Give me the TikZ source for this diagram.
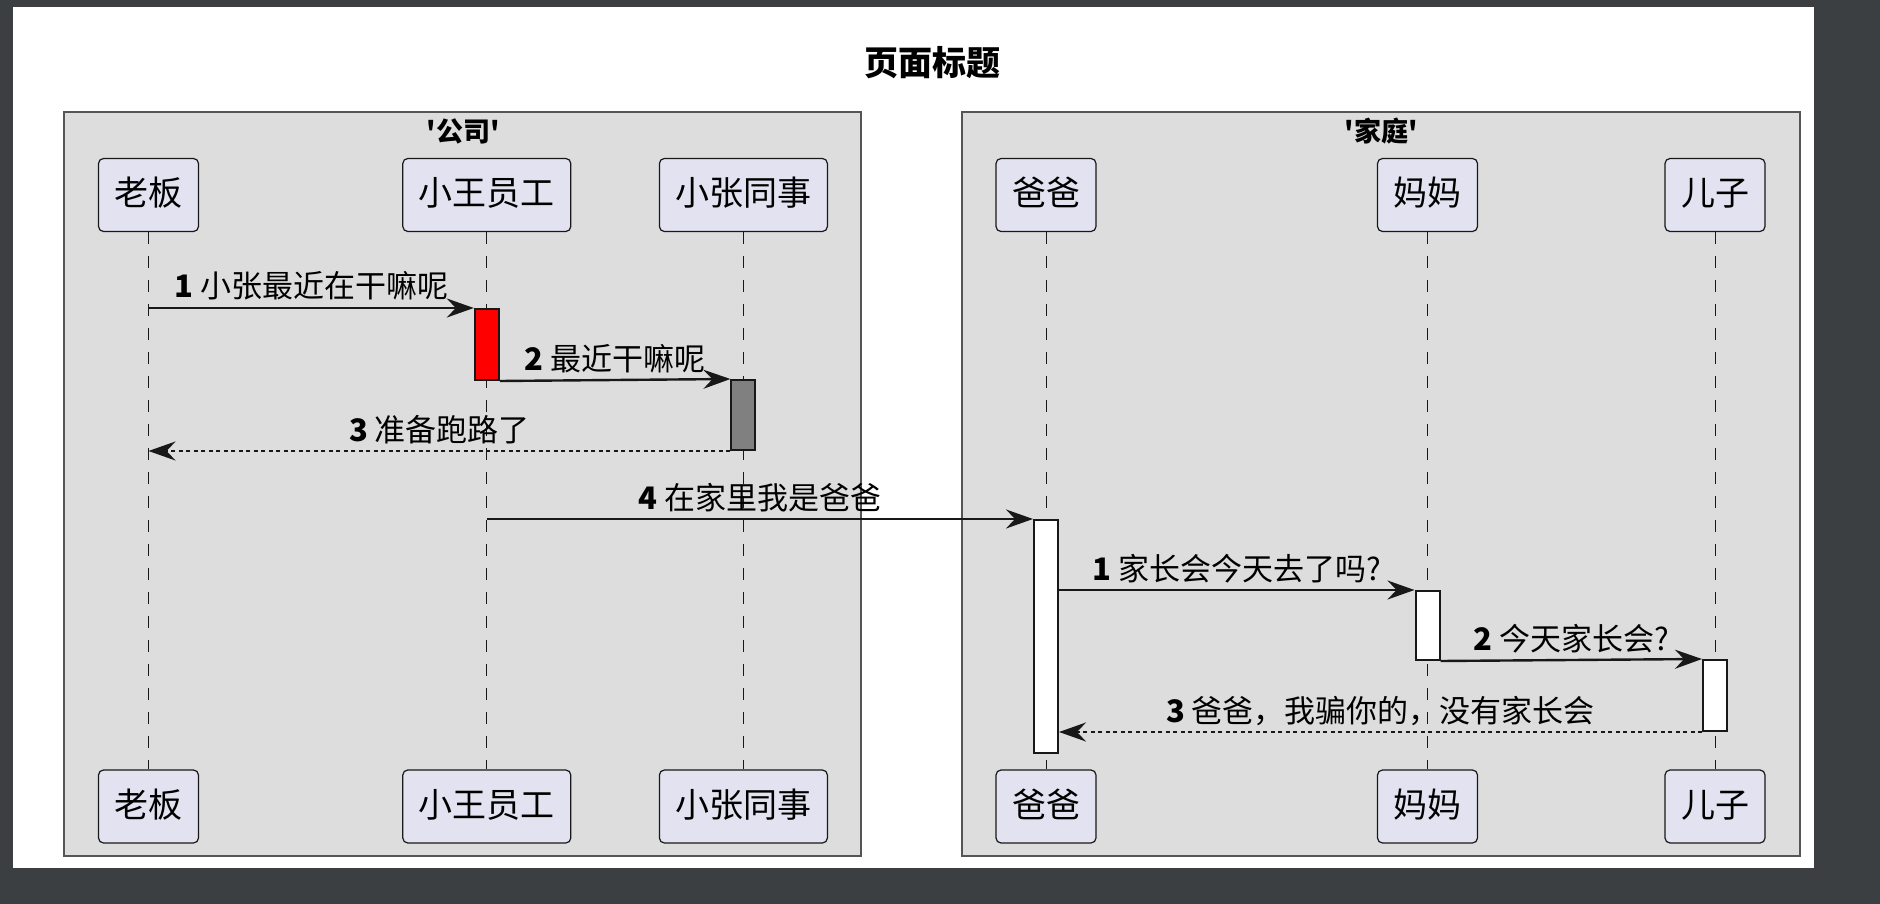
\documentclass[tikz,border=0pt]{standalone}
\usepackage{fontspec}
\newfontfamily\umlfont{Noto Sans CJK SC}
\usetikzlibrary{arrows.meta}
\definecolor{umlbg}{HTML}{3C3F42}
\definecolor{umlink}{HTML}{181818}
\definecolor{umlgroup}{HTML}{DDDDDD}
\definecolor{umlpart}{HTML}{E2E2F0}
\definecolor{umlframe}{HTML}{555555}
\definecolor{umlactgray}{HTML}{808080}
\tikzset{
  titletext/.style={font=\umlfont\bfseries\fontsize{34}{40}\selectfont, text=black},
  grouptitle/.style={font=\umlfont\bfseries\fontsize{27}{32}\selectfont, text=black},
  groupbox/.style={draw=umlframe, fill=umlgroup, line width=1.2},
  partbox/.style={draw=umlink, fill=umlpart, rounded corners=5, line width=1.2,
    font=\umlfont\fontsize{34}{40}\selectfont, text=black,
    inner xsep=16, inner ysep=0, text height=28, text depth=6, minimum height=73},
  lifeline/.style={draw=umlink, line width=1, dash pattern=on 12 off 12},
  actbar/.style={draw=umlink, line width=2, minimum width=24, inner sep=0, anchor=north},
  msgtext/.style={midway, anchor=base, yshift=10, inner sep=0,
    font=\umlfont\fontsize{31}{36}\selectfont, text=black},
  callflow/.style={-{Stealth[length=27, width=19, inset=9]}, draw=umlink, line width=2.4},
  replyflow/.style={callflow, dash pattern=on 4 off 3.5}
}
\begin{document}
\begin{tikzpicture}[x=1pt,y=-1pt]
  \useasboundingbox[fill=umlbg] (0,0) rectangle (1880,904);
  \fill[white] (13,7) rectangle (1814,868);
  \node[titletext] (pagetitle) at (932,63) {页面标题};

  % the two boxes
  \draw[groupbox] (64,112) rectangle (861,856);
  \draw[groupbox] (962,112) rectangle (1800,856);
  \node[grouptitle] (companytitle) at (463,131) {'公司'};
  \node[grouptitle] (hometitle) at (1381,131) {'家庭'};

  % participants, head and foot, with lifelines
  \foreach \pid/\x/\pname in {boss/148.5/老板, wang/486.8/小王员工, zhang/743.4/小张同事,
      dad/1046/爸爸, mom/1427.5/妈妈, son/1715/儿子} {
    \node[partbox] (\pid) at (\x,195) {\pname};
    \node[partbox] (\pid foot) at (\x,806.5) {\pname};
    \draw[lifeline] (\pid) -- (\pid foot);
  }

  % activations
  \node[actbar, fill=red, minimum height=71] (wangact) at (wang |- 0,308) {};
  \node[actbar, fill=umlactgray, minimum height=70] (zhangact) at (zhang |- 0,379) {};
  \node[actbar, fill=white, minimum height=233] (dadact) at (dad |- 0,519) {};
  \node[actbar, fill=white, minimum height=69] (momact) at (mom |- 0,590) {};
  \node[actbar, fill=white, minimum height=71] (sonact) at (son |- 0,659) {};

  % company messages
  \draw[callflow] (boss |- wangact.north) -- (wangact.north west)
    node[msgtext] {\textbf{1} 小张最近在干嘛呢};
  \draw[callflow] (wangact.south east) -- (zhangact.north west)
    node[msgtext] {\textbf{2} 最近干嘛呢};
  \draw[replyflow] (zhangact.south west) -- (boss |- zhangact.south)
    node[msgtext] {\textbf{3} 准备跑路了};
  \draw[callflow] (wang |- dadact.north) -- (dadact.north west)
    node[msgtext] {\textbf{4} 在家里我是爸爸};

  % home messages
  \draw[callflow] (dadact.east |- momact.north) -- (momact.north west)
    node[msgtext] {\textbf{1} 家长会今天去了吗?};
  \draw[callflow] (momact.south east) -- (sonact.north west)
    node[msgtext] {\textbf{2} 今天家长会?};
  \draw[replyflow] (sonact.south west) -- (dadact.east |- sonact.south)
    node[msgtext] {\textbf{3} 爸爸，我骗你的，没有家长会};
\end{tikzpicture}
\end{document}
